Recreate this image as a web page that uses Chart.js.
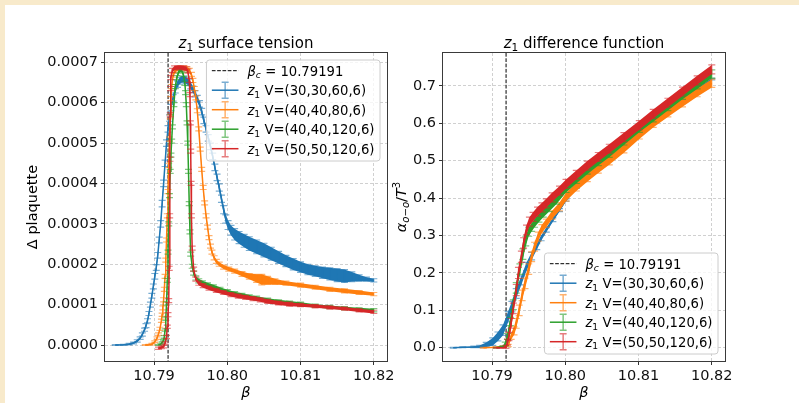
<!DOCTYPE html>
<html>
<head>
<meta charset="utf-8">
<script src="https://cdn.jsdelivr.net/npm/chart.js@4.4.0/dist/chart.umd.min.js"></script>
<style>
  html, body { margin: 0; padding: 0; }
  body { width: 799px; height: 403px; background: #f8eacb; position: relative; overflow: hidden; }
  #panel { position: absolute; left: 5px; top: 5px; width: 794px; height: 398px; background: #fff; }
  canvas { position: absolute; top: 0; }
  #left { left: 0; width: 400px; height: 403px; }
  #right { left: 385px; width: 414px; height: 403px; }
</style>
</head>
<body>
<div id="panel"></div>
<canvas id="left" width="400" height="403"></canvas>
<canvas id="right" width="414" height="403"></canvas>
<script>
// ---- data ----
const betaCritical = 10.79191;
const seriesNames = ['V=(30,30,60,6)', 'V=(40,40,80,6)', 'V=(40,40,120,6)', 'V=(50,50,120,6)'];
const betaTicks = [10.79, 10.80, 10.81, 10.82];
const plaqTicks = [0, 1, 2, 3, 4, 5, 6, 7];           // units of 1e-4
const diffTicks = [0, 0.1, 0.2, 0.3, 0.4, 0.5, 0.6, 0.7];

// surface tension, Δ plaquette in units of 1e-4
const stBetaBlue = [10.7847, 10.7858, 10.7866, 10.7872, 10.7877, 10.7881, 10.7884, 10.7887, 10.7889, 10.7891,
  10.7893, 10.7895, 10.7897, 10.7899, 10.7901, 10.7903, 10.7905, 10.7907, 10.7909, 10.7911,
  10.7913, 10.7915, 10.7917, 10.7919, 10.7921, 10.7923, 10.7926, 10.7929, 10.7932, 10.7935,
  10.7938, 10.7941, 10.7944, 10.7947, 10.7950, 10.7953, 10.7956, 10.7959, 10.7962, 10.7965,
  10.7968, 10.7971, 10.7974, 10.7977, 10.7980, 10.7983, 10.7986, 10.7989, 10.7992, 10.7995,
  10.7998, 10.8001, 10.8005, 10.8010, 10.8016, 10.8023, 10.8030, 10.8040, 10.8050, 10.8060,
  10.8070, 10.8080, 10.8090, 10.8100, 10.8110, 10.8120, 10.8130, 10.8140, 10.8150, 10.8160,
  10.8170, 10.8180, 10.8190, 10.8200];
const stBlue = [0, 0.005, 0.02, 0.05, 0.1, 0.17, 0.26, 0.38, 0.48, 0.6,
  0.78, 1.0, 1.22, 1.45, 1.7, 1.92, 2.22, 2.6, 3.0, 3.5,
  4.0, 4.5, 5.0, 5.35, 5.62, 5.88, 6.12, 6.32, 6.46, 6.54,
  6.58, 6.58, 6.55, 6.5, 6.42, 6.33, 6.22, 6.1, 5.97, 5.78,
  5.56, 5.35, 5.13, 4.92, 4.67, 4.4, 4.15, 3.9, 3.62, 3.35,
  3.12, 2.97, 2.84, 2.74, 2.66, 2.58, 2.51, 2.43, 2.35, 2.26,
  2.17, 2.08, 2.0, 1.93, 1.87, 1.83, 1.79, 1.76, 1.73, 1.71,
  1.69, 1.66, 1.63, 1.6];
const stBlueErr = [0.01, 0.01, 0.02, 0.02, 0.03, 0.03, 0.04, 0.04, 0.05, 0.05,
  0.05, 0.06, 0.06, 0.06, 0.07, 0.07, 0.07, 0.07, 0.08, 0.08,
  0.08, 0.08, 0.08, 0.08, 0.08, 0.08, 0.08, 0.08, 0.08, 0.08,
  0.08, 0.08, 0.08, 0.08, 0.08, 0.08, 0.08, 0.08, 0.08, 0.08,
  0.08, 0.08, 0.08, 0.08, 0.08, 0.08, 0.08, 0.09, 0.09, 0.1,
  0.1, 0.11, 0.12, 0.14, 0.15, 0.16, 0.17, 0.17, 0.17, 0.16,
  0.15, 0.14, 0.14, 0.13, 0.13, 0.13, 0.14, 0.15, 0.16, 0.16,
  0.12, 0.08, 0.05, 0.04];

const stBetaOrange = [10.7888, 10.7893, 10.7897, 10.7901, 10.7904, 10.7906, 10.7908, 10.7910, 10.7911, 10.7912,
  10.7913, 10.7914, 10.7915, 10.7916, 10.7917, 10.7918, 10.7919, 10.7920, 10.7921, 10.7922,
  10.7923, 10.7924, 10.7926, 10.7929, 10.7933, 10.7937, 10.7941, 10.7945, 10.7948, 10.7951,
  10.7953, 10.7955, 10.7957, 10.7959, 10.7961, 10.7963, 10.7965, 10.7967, 10.7969, 10.7971,
  10.7973, 10.7975, 10.7977, 10.7979, 10.7982, 10.7985, 10.7989, 10.7995, 10.8002, 10.8010,
  10.8020, 10.8030, 10.8040, 10.8047, 10.8055, 10.8065, 10.8080, 10.8100, 10.8120, 10.8140,
  10.8160, 10.8180, 10.8200];
const stOrange = [0, 0.005, 0.02, 0.08, 0.17, 0.27, 0.4, 0.6, 0.75, 0.92,
  1.12, 1.38, 1.7, 2.1, 2.6, 3.2, 3.8, 4.45, 5.1, 5.65,
  6.1, 6.4, 6.68, 6.8, 6.85, 6.86, 6.86, 6.84, 6.8, 6.7,
  6.55, 6.35, 6.12, 5.8, 5.35, 4.85, 4.35, 3.9, 3.52, 3.2,
  2.92, 2.66, 2.45, 2.3, 2.16, 2.07, 2.0, 1.93, 1.88, 1.83,
  1.76, 1.7, 1.65, 1.62, 1.6, 1.57, 1.53, 1.48, 1.43, 1.38,
  1.34, 1.3, 1.26];
const stOrangeErr = [0.01, 0.01, 0.02, 0.02, 0.03, 0.03, 0.04, 0.04, 0.04, 0.05,
  0.05, 0.05, 0.05, 0.05, 0.05, 0.05, 0.05, 0.05, 0.05, 0.05,
  0.05, 0.05, 0.05, 0.05, 0.05, 0.05, 0.05, 0.05, 0.05, 0.05,
  0.05, 0.05, 0.05, 0.05, 0.05, 0.05, 0.05, 0.05, 0.05, 0.05,
  0.05, 0.05, 0.05, 0.05, 0.05, 0.05, 0.05, 0.05, 0.05, 0.05,
  0.06, 0.07, 0.1, 0.13, 0.1, 0.07, 0.05, 0.05, 0.05, 0.05,
  0.05, 0.05, 0.04];

const stBetaGreen = [10.7906, 10.7909, 10.7911, 10.7913, 10.7914, 10.7915, 10.7916, 10.7917, 10.7918, 10.7919,
  10.7920, 10.7921, 10.7922, 10.7923, 10.7924, 10.7925, 10.7927, 10.7929, 10.7931, 10.7934,
  10.7937, 10.7940, 10.7942, 10.7943, 10.7944, 10.7945, 10.7946, 10.7947, 10.7948, 10.7949,
  10.7950, 10.7952, 10.7954, 10.7957, 10.7961, 10.7966, 10.7973, 10.7981, 10.7990, 10.8000,
  10.8010, 10.8020, 10.8030, 10.8040, 10.8055, 10.8070, 10.8085, 10.8100, 10.8120, 10.8140,
  10.8160, 10.8180, 10.8200];
const stGreen = [0, 0.02, 0.06, 0.12, 0.2, 0.37, 0.65, 1.03, 1.6, 2.3,
  3.0, 3.7, 4.3, 4.7, 5.05, 5.4, 5.95, 6.4, 6.62, 6.78,
  6.82, 6.7, 6.48, 6.25, 5.95, 5.5, 5.0, 4.3, 3.5, 2.8,
  2.25, 1.95, 1.78, 1.66, 1.59, 1.54, 1.49, 1.44, 1.38, 1.32,
  1.27, 1.23, 1.19, 1.16, 1.11, 1.07, 1.04, 1.01, 0.97, 0.94,
  0.91, 0.88, 0.86];
const stGreenErr = [0.01, 0.01, 0.02, 0.02, 0.03, 0.03, 0.04, 0.04, 0.05, 0.05,
  0.05, 0.05, 0.05, 0.05, 0.05, 0.05, 0.05, 0.05, 0.05, 0.05,
  0.05, 0.05, 0.05, 0.05, 0.05, 0.05, 0.05, 0.05, 0.05, 0.05,
  0.05, 0.05, 0.05, 0.05, 0.05, 0.05, 0.05, 0.05, 0.05, 0.05,
  0.05, 0.05, 0.05, 0.05, 0.05, 0.05, 0.05, 0.05, 0.04, 0.04,
  0.04, 0.04, 0.04];

const stBetaRed = [10.7906, 10.7910, 10.7913, 10.7915, 10.7917, 10.7918, 10.7919, 10.7920, 10.79207, 10.79213,
  10.79217, 10.7922, 10.79225, 10.7923, 10.7925, 10.7928, 10.7932, 10.7936, 10.7940, 10.7944,
  10.7946, 10.7948, 10.7949, 10.79495, 10.7950, 10.79505, 10.7951, 10.7952, 10.7954, 10.7957,
  10.7961, 10.7967, 10.7975, 10.7985, 10.7995, 10.8005, 10.8015, 10.8025, 10.8035, 10.8045,
  10.8055, 10.8070, 10.8085, 10.8100, 10.8120, 10.8140, 10.8160, 10.8180, 10.8200];
const stRed = [-0.08, -0.06, -0.04, 0.05, 0.2, 0.45, 0.75, 1.1, 1.9, 3.2,
  4.6, 5.7, 6.35, 6.62, 6.8, 6.86, 6.87, 6.87, 6.86, 6.84,
  6.78, 6.55, 6.2, 5.5, 4.8, 4.0, 3.2, 2.4, 1.88, 1.63,
  1.53, 1.47, 1.41, 1.35, 1.3, 1.25, 1.21, 1.18, 1.15, 1.12,
  1.08, 1.04, 1.01, 0.99, 0.96, 0.93, 0.9, 0.86, 0.82];
const stRedErr = [0.03, 0.03, 0.03, 0.03, 0.04, 0.04, 0.05, 0.05, 0.05, 0.05,
  0.05, 0.05, 0.05, 0.05, 0.05, 0.05, 0.05, 0.05, 0.05, 0.05,
  0.05, 0.05, 0.05, 0.05, 0.05, 0.05, 0.05, 0.05, 0.05, 0.05,
  0.05, 0.05, 0.05, 0.05, 0.05, 0.05, 0.05, 0.05, 0.05, 0.05,
  0.05, 0.05, 0.05, 0.04, 0.04, 0.04, 0.04, 0.04, 0.04];

// difference function alpha_{o-o}/T^3
const dfBetaBlue = [10.7847, 10.7860, 10.7875, 10.7883, 10.7892, 10.7901, 10.7908, 10.7915, 10.7922, 10.7927,
  10.7933, 10.7940, 10.7947, 10.7954, 10.7961, 10.7967, 10.7974, 10.7983, 10.7992, 10.8001,
  10.8015, 10.8030, 10.8045, 10.8060, 10.8080, 10.8101, 10.8120, 10.8140, 10.8160, 10.8180, 10.8200];
const dfBlue = [0, 0.001, 0.002, 0.003, 0.008, 0.016, 0.03, 0.047, 0.083, 0.11,
  0.145, 0.18, 0.217, 0.245, 0.27, 0.293, 0.315, 0.342, 0.368, 0.395,
  0.428, 0.456, 0.48, 0.503, 0.537, 0.573, 0.607, 0.637, 0.665, 0.692, 0.718];
const dfBlueErr = [0.001, 0.001, 0.002, 0.003, 0.006, 0.01, 0.012, 0.014, 0.014, 0.014,
  0.013, 0.012, 0.011, 0.01, 0.008, 0.007, 0.006, 0.005, 0.004, 0.003,
  0.002, 0.002, 0.002, 0.002, 0.002, 0.002, 0.002, 0.002, 0.002, 0.002, 0.002];

const dfBetaOrange = [10.7888, 10.7905, 10.7915, 10.7922, 10.7926, 10.7930, 10.7933, 10.7937, 10.7941, 10.7945,
  10.7950, 10.7954, 10.7958, 10.7963, 10.7968, 10.7974, 10.7982, 10.7992, 10.8001, 10.8015,
  10.8030, 10.8045, 10.8060, 10.8080, 10.8101, 10.8120, 10.8140, 10.8160, 10.8180, 10.8200];
const dfOrange = [0, 0.001, 0.003, 0.006, 0.03, 0.045, 0.065, 0.1, 0.14, 0.172,
  0.21, 0.243, 0.27, 0.297, 0.318, 0.333, 0.355, 0.377, 0.403, 0.43,
  0.455, 0.478, 0.5, 0.532, 0.569, 0.6, 0.628, 0.655, 0.682, 0.707];
const dfOrangeErr = [0.001, 0.001, 0.002, 0.003, 0.008, 0.011, 0.013, 0.014, 0.014, 0.014,
  0.014, 0.013, 0.012, 0.012, 0.011, 0.011, 0.011, 0.011, 0.011, 0.011,
  0.011, 0.011, 0.011, 0.011, 0.011, 0.011, 0.011, 0.011, 0.011, 0.011];

const dfBetaGreen = [10.7906, 10.7915, 10.7918, 10.7921, 10.7925, 10.7929, 10.7933, 10.7938, 10.7942, 10.7946,
  10.7950, 10.7954, 10.7958, 10.7964, 10.7970, 10.7978, 10.7988, 10.8001, 10.8015, 10.8030,
  10.8045, 10.8060, 10.8080, 10.8101, 10.8120, 10.8140, 10.8160, 10.8180, 10.8200];
const dfGreen = [0, 0.003, 0.01, 0.03, 0.07, 0.115, 0.16, 0.21, 0.25, 0.285,
  0.31, 0.322, 0.333, 0.347, 0.36, 0.375, 0.395, 0.426, 0.45, 0.475,
  0.498, 0.52, 0.553, 0.587, 0.615, 0.645, 0.675, 0.703, 0.732];
const dfGreenErr = [0.001, 0.002, 0.005, 0.008, 0.011, 0.013, 0.014, 0.014, 0.014, 0.013,
  0.012, 0.011, 0.011, 0.011, 0.011, 0.011, 0.011, 0.011, 0.011, 0.011,
  0.011, 0.011, 0.011, 0.011, 0.011, 0.011, 0.011, 0.011, 0.011];

const dfBetaRed = [10.7906, 10.7915, 10.7919, 10.7921, 10.7923, 10.7926, 10.7929, 10.7933, 10.7936, 10.7940,
  10.7943, 10.7947, 10.7951, 10.7956, 10.7962, 10.7968, 10.7974, 10.7982, 10.7992, 10.8001,
  10.8015, 10.8030, 10.8045, 10.8060, 10.8080, 10.8101, 10.8120, 10.8140, 10.8160, 10.8180, 10.8200];
const dfRed = [0, 0, 0.002, 0.015, 0.03, 0.065, 0.105, 0.154, 0.2, 0.243,
  0.28, 0.315, 0.337, 0.35, 0.364, 0.375, 0.386, 0.402, 0.42, 0.438,
  0.462, 0.487, 0.51, 0.532, 0.563, 0.595, 0.625, 0.655, 0.685, 0.715, 0.744];
const dfRedErr = [0.001, 0.001, 0.004, 0.008, 0.011, 0.013, 0.014, 0.015, 0.015, 0.015,
  0.014, 0.013, 0.012, 0.012, 0.012, 0.012, 0.012, 0.012, 0.012, 0.012,
  0.012, 0.012, 0.012, 0.012, 0.012, 0.012, 0.012, 0.012, 0.012, 0.012, 0.012];

// ---- styling ----
const FONT = '"DejaVu Sans"';
const seriesColors = ['#1f77b4', '#ff7f0e', '#2ca02c', '#d62728'];

function rgba(hex, a) {
  const n = parseInt(hex.slice(1), 16);
  return 'rgba(' + (n >> 16) + ',' + ((n >> 8) & 255) + ',' + (n & 255) + ',' + a + ')';
}

function makeSets(betas, vals, errs) {
  return seriesColors.map((c, k) => ({
    label: seriesNames[k],
    data: betas[k].map((b, i) => ({x: b, y: vals[k][i]})),
    errs: errs[k],
    borderColor: c,
    backgroundColor: c,
    borderWidth: 1.5,
    pointRadius: 0,
    fill: false,
    tension: 0,
    order: 4 - k
  }));
}

// mixed text: [text, style] where style has i (italic), sub, sup
function measureParts(ctx, parts, size) {
  return parts.map(([t, s]) => {
    const sub = s.includes('sub'), sup = s.includes('sup');
    const fs = (sub || sup) ? size * 0.7 : size;
    const font = (s.startsWith('i') ? 'italic ' : '') + fs + 'px ' + FONT;
    ctx.font = font;
    return {t, font, w: ctx.measureText(t).width, dy: sub ? size * 0.22 : (sup ? -size * 0.4 : 0)};
  });
}
function drawRich(ctx, parts, x, y, size, align) {
  const segs = measureParts(ctx, parts, size);
  const total = segs.reduce((a, s) => a + s.w, 0);
  let cx = align === 'center' ? x - total / 2 : x;
  ctx.textAlign = 'left';
  ctx.textBaseline = 'alphabetic';
  ctx.fillStyle = '#000';
  segs.forEach(s => { ctx.font = s.font; ctx.fillText(s.t, cx, y + s.dy); cx += s.w; });
  return total;
}
function richWidth(ctx, parts, size) {
  return measureParts(ctx, parts, size).reduce((a, s) => a + s.w, 0);
}

const errorBars = {
  id: 'errorBars',
  afterDatasetDraw(chart, args) {
    const ds = chart.data.datasets[args.index];
    if (!ds.errs) return;
    const {ctx, chartArea: a, scales: {x, y}} = chart;
    const pts = ds.data;
    ctx.save();
    ctx.beginPath();
    ctx.rect(a.left, a.top, a.width, a.height);
    ctx.clip();
    ctx.fillStyle = ds.borderColor;
    ctx.beginPath();
    pts.forEach((p, i) => {
      const px = x.getPixelForValue(p.x), py = y.getPixelForValue(p.y + ds.errs[i]);
      i ? ctx.lineTo(px, py) : ctx.moveTo(px, py);
    });
    for (let i = pts.length - 1; i >= 0; i--) {
      ctx.lineTo(x.getPixelForValue(pts[i].x), y.getPixelForValue(pts[i].y - ds.errs[i]));
    }
    ctx.closePath();
    ctx.fill();
    ctx.strokeStyle = rgba(ds.borderColor, 0.6);
    ctx.lineWidth = 1.2;
    ctx.beginPath();
    pts.forEach((p, i) => {
      const px = x.getPixelForValue(p.x);
      const lo = y.getPixelForValue(p.y - ds.errs[i]), hi = y.getPixelForValue(p.y + ds.errs[i]);
      ctx.moveTo(px, lo); ctx.lineTo(px, hi);
      ctx.moveTo(px - 3.5, lo); ctx.lineTo(px + 3.5, lo);
      ctx.moveTo(px - 3.5, hi); ctx.lineTo(px + 3.5, hi);
    });
    ctx.stroke();
    ctx.restore();
  }
};

const decorations = {
  id: 'decorations',
  beforeDatasetsDraw(chart) {
    const {ctx, chartArea: a, scales: {x}} = chart;
    const bx = x.getPixelForValue(betaCritical);
    ctx.save();
    ctx.strokeStyle = '#000';
    ctx.lineWidth = 1;
    ctx.setLineDash([3.7, 1.6]);
    ctx.beginPath();
    ctx.moveTo(bx, a.top);
    ctx.lineTo(bx, a.bottom);
    ctx.stroke();
    ctx.restore();
  },
  afterDatasetsDraw(chart) {
    const {ctx, chartArea: a} = chart;
    ctx.save();
    ctx.strokeStyle = '#3a3a3a';
    ctx.lineWidth = 1;
    ctx.strokeRect(a.left - 0.5, a.top - 0.5, a.width + 1, a.height + 1);
    ctx.restore();
  },
  afterDraw(chart, args, opts) {
    const {ctx, chartArea: a} = chart;
    ctx.save();
    drawRich(ctx, opts.title, (a.left + a.right) / 2, 48, 15, 'center');
    if (opts.yLabel) {
      ctx.save();
      ctx.translate(opts.yLabelX, (a.top + a.bottom) / 2);
      ctx.rotate(-Math.PI / 2);
      drawRich(ctx, opts.yLabel, 0, 5, 14.5, 'center');
      ctx.restore();
    }
    // legend
    const size = 13.2, rowGap = 19.5, handle = 26.6;
    const entries = [[['β', 'i'], ['c', 'isub'], [' = ' + betaCritical.toFixed(5), '']]]
      .concat(seriesNames.map(n => [['z', 'i'], ['1', 'sub'], [' ' + n, '']]));
    const textW = Math.max(...entries.map(e => richWidth(ctx, e, size)));
    const w = 5.4 + handle + 9 + textW + 5.5, h = 101;
    const right = a.right - 7;
    const top = opts.legendAt === 'upper' ? a.top + 7 : a.bottom - 7 - h;
    const left = right - w;
    ctx.beginPath();
    ctx.roundRect(left, top, w, h, 3);
    ctx.fillStyle = 'rgba(255,255,255,0.8)';
    ctx.fill();
    ctx.strokeStyle = '#cccccc';
    ctx.lineWidth = 1;
    ctx.stroke();
    entries.forEach((e, k) => {
      const ry = top + 10.7 + k * rowGap;
      const hx = left + 5.4;
      if (k === 0) {
        ctx.strokeStyle = '#000';
        ctx.lineWidth = 1;
        ctx.setLineDash([3.7, 1.6]);
        ctx.beginPath(); ctx.moveTo(hx, ry); ctx.lineTo(hx + handle, ry); ctx.stroke();
        ctx.setLineDash([]);
      } else {
        const c = seriesColors[k - 1];
        const mx = hx + handle / 2;
        ctx.strokeStyle = c;
        ctx.lineWidth = 1.5;
        ctx.beginPath(); ctx.moveTo(hx, ry); ctx.lineTo(hx + handle, ry); ctx.stroke();
        ctx.strokeStyle = rgba(c, 0.6);
        ctx.beginPath();
        ctx.moveTo(mx, ry - 8); ctx.lineTo(mx, ry + 8);
        ctx.moveTo(mx - 3.5, ry - 8); ctx.lineTo(mx + 3.5, ry - 8);
        ctx.moveTo(mx - 3.5, ry + 8); ctx.lineTo(mx + 3.5, ry + 8);
        ctx.stroke();
      }
      drawRich(ctx, e, hx + handle + 9, ry + 4.8, size, 'left');
    });
    ctx.restore();
  }
};

function axisOptions(yMin, yMax, yTicks, yFmt, yWidth, yTitle) {
  const tickFont = {family: FONT, size: 14.5};
  const grid = {color: 'rgba(176,176,176,0.6)', lineWidth: 1, tickColor: '#333', tickLength: 4};
  return {
    x: {
      type: 'linear', min: 10.7833, max: 10.8218,
      afterBuildTicks: s => { s.ticks = betaTicks.map(v => ({value: v})); },
      afterFit: s => { s.height = 42; },
      ticks: {callback: v => v.toFixed(2), font: tickFont, color: '#111', padding: 3, maxRotation: 0, autoSkip: false},
      grid: grid,
      border: {display: false, dash: [3, 2]},
      title: {display: true, text: 'β', color: '#000', font: {family: FONT, size: 14.5, style: 'italic'}, padding: {top: 0, bottom: 1}}
    },
    y: {
      type: 'linear', min: yMin, max: yMax,
      afterBuildTicks: s => { s.ticks = yTicks.map(v => ({value: v})); },
      afterFit: s => { s.width = yWidth; },
      ticks: {callback: yFmt, font: tickFont, color: '#111', padding: 3, autoSkip: false},
      grid: grid,
      border: {display: false, dash: [3, 2]},
      title: yTitle
    }
  };
}

const baseOptions = {
  responsive: false,
  animation: false,
  devicePixelRatio: 1,
  events: []
};

new Chart(document.getElementById('left'), {
  type: 'line',
  data: {
    datasets: makeSets(
      [stBetaBlue, stBetaOrange, stBetaGreen, stBetaRed],
      [stBlue, stOrange, stGreen, stRed],
      [stBlueErr, stOrangeErr, stGreenErr, stRedErr])
  },
  options: Object.assign({}, baseOptions, {
    layout: {padding: {left: 0, right: 13, top: 53, bottom: 0}},
    plugins: {
      legend: {display: false},
      tooltip: {enabled: false},
      decorations: {title: [['z', 'i'], ['1', 'sub'], [' surface tension', '']], legendAt: 'upper'}
    },
    scales: axisOptions(-0.396, 7.23, plaqTicks, v => (v * 1e-4).toFixed(4), 105,
      {display: true, text: 'Δ plaquette', color: '#000', font: {family: FONT, size: 14.5}, padding: {top: 25, bottom: 0}})
  }),
  plugins: [errorBars, decorations]
});

new Chart(document.getElementById('right'), {
  type: 'line',
  data: {
    datasets: makeSets(
      [dfBetaBlue, dfBetaOrange, dfBetaGreen, dfBetaRed],
      [dfBlue, dfOrange, dfGreen, dfRed],
      [dfBlueErr, dfOrangeErr, dfGreenErr, dfRedErr])
  },
  options: Object.assign({}, baseOptions, {
    layout: {padding: {left: 0, right: 74, top: 53, bottom: 0}},
    plugins: {
      legend: {display: false},
      tooltip: {enabled: false},
      decorations: {
        title: [['z', 'i'], ['1', 'sub'], [' difference function', '']],
        legendAt: 'lower',
        yLabel: [['α', 'i'], ['o−o', 'isub'], ['/', ''], ['T', 'i'], ['3', 'sup']],
        yLabelX: 16
      }
    },
    scales: axisOptions(-0.0356, 0.788, diffTicks, v => v.toFixed(1), 58, {display: false})
  }),
  plugins: [errorBars, decorations]
});
</script>
</body>
</html>
